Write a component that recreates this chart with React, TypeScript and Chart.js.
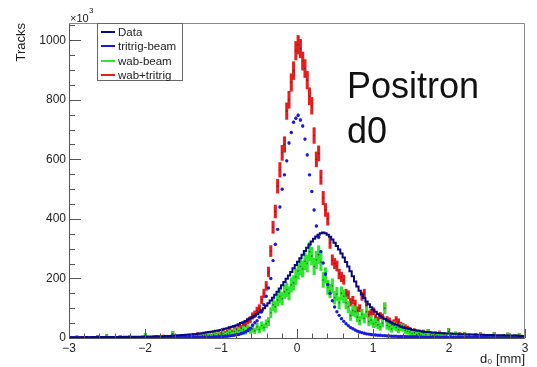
import React, { useEffect, useRef } from 'react';
import { Chart, registerables } from 'chart.js';

Chart.register(...registerables);

// ---- axis ranges / ticks ----
const X_MIN = -3;
const X_MAX = 3;
const N_BINS = 200;
const Y_MIN = 0;
const Y_MAX = 1058;
const X_MAJOR_STEP = 1;
const X_MINOR_STEP = 0.2;
const Y_MAJOR_STEP = 200;
const Y_MINOR_STEP = 50;

const SERIES_NAMES = ['Data', 'tritrig-beam', 'wab-beam', 'wab+tritrig'];
const NAVY = '#0a0a80';
const BLUE = '#1a1ae0';
const GREEN = '#2ee62e';
const RED = '#e81e1e';

// ---- per-bin contents (units of 10^3 tracks), 200 bins of 0.03 mm from -3 to 3 ----
const dataCounts = [
  2, 2, 2, 2, 2, 2, 2, 3, 2, 2, 3, 3, 2, 3, 3, 3, 3, 3, 3, 3,
  3, 3, 3, 3, 4, 3, 4, 4, 4, 4, 4, 4, 5, 5, 5, 5, 5, 6, 6, 6,
  6, 6, 7, 7, 7, 8, 8, 9, 9, 10, 10, 11, 11, 12, 13, 13, 14, 15, 16, 18,
  19, 20, 21, 23, 24, 25, 27, 29, 31, 33, 36, 38, 40, 43, 46, 50, 53, 57, 62, 66,
  70, 75, 80, 86, 93, 100, 108, 117, 126, 135, 145, 155, 166, 177, 188, 199, 210, 222, 234, 245,
  256, 268, 280, 292, 303, 314, 324, 333, 341, 347, 352, 354, 352, 347, 340, 331, 320, 309, 297, 284,
  270, 255, 240, 224, 207, 190, 173, 159, 146, 134, 123, 113, 103, 95, 88, 81, 75, 69, 64, 59,
  55, 51, 48, 45, 42, 39, 36, 34, 32, 30, 28, 27, 25, 24, 23, 21, 20, 20, 19, 18,
  18, 17, 17, 16, 16, 15, 15, 15, 14, 14, 14, 13, 13, 13, 12, 12, 12, 12, 11, 11,
  11, 11, 10, 10, 10, 10, 9, 9, 9, 9, 9, 8, 8, 8, 8, 8, 8, 7, 7, 7,
];

const tritrigBeam = [
  1, 1, 1, 1, 1, 1, 1, 1, 1, 1, 1, 1, 1, 1, 1, 1, 1, 1, 1, 1,
  1, 1, 1, 1, 1, 1, 1, 1, 1, 1, 1, 1, 1, 1, 1, 1, 1, 1, 1, 1,
  1, 1, 1, 1, 1, 1, 2, 2, 2, 2, 2, 2, 2, 2, 3, 3, 3, 3, 3, 3,
  3, 3, 3, 4, 4, 4, 5, 5, 6, 6, 7, 8, 9, 11, 12, 15, 17, 21, 25, 33,
  43, 51, 58, 70, 88, 112, 140, 168, 200, 260, 315, 365, 440, 500, 548, 595, 655, 690, 725, 738,
  748, 732, 712, 668, 615, 548, 492, 430, 376, 338, 290, 252, 215, 180, 150, 125, 104, 88, 76, 65,
  56, 48, 41, 35, 31, 27, 23, 20, 18, 16, 14, 13, 12, 11, 10, 9, 9, 8, 8, 7,
  7, 6, 6, 6, 5, 5, 5, 5, 4, 4, 4, 4, 4, 3, 3, 3, 3, 3, 3, 3,
  3, 3, 3, 2, 2, 2, 2, 2, 2, 2, 2, 2, 2, 2, 2, 2, 2, 2, 2, 2,
  2, 2, 2, 2, 1, 1, 1, 1, 1, 1, 1, 1, 1, 1, 1, 1, 1, 1, 1, 1,
];

const wabBeam: (number | null)[] = [
  null, null, null, 2, null, null, null, null, null, null, null, null, 3, null, null, null, 6, null, null, null,
  null, null, 3, null, null, null, 2, null, null, null, null, null, null, 8, null, null, null, null, 3, null,
  null, 4, null, null, null, 14, null, 3, null, 5, 4, null, 6, 3, 7, 5, 9, 4, 8, 10,
  6, 9, 5, 11, 7, 12, 8, 14, 10, 13, 18, 12, 22, 16, 25, 19, 28, 22, 32, 26,
  30, 24, 38, 28, 42, 35, 48, 55, 85, 112, 105, 128, 140, 132, 155, 162, 150, 178, 185, 205,
  225, 240, 232, 258, 250, 290, 275, 240, 262, 280, 255, 195, 210, 170, 158, 175, 135, 148, 118, 150,
  140, 118, 104, 75, 92, 88, 70, 58, 80, 66, 88, 55, 60, 48, 52, 44, 38, 50, 100, 42,
  38, 30, 42, 35, 28, 36, 33, 25, 22, 20, 15, 18, 12, 14, 10, 16, 12, 19, 11, 8,
  12, 8, 14, 6, 10, 7, 22, 9, 5, 12, 8, 10, 6, 11, 4, 7, null, 5, 8, null,
  10, 4, null, 6, null, 3, 11, null, 4, null, 5, null, 10, 3, null, 6, null, 9, 4, 3,
];

const wabTritrig = [
  1, 1, 1, 3, 1, 1, 1, 1, 1, 1, 1, 1, 4, 1, 1, 1, 7, 1, 1, 1,
  1, 1, 4, 1, 1, 1, 3, 1, 1, 1, 1, 1, 1, 9, 1, 1, 1, 1, 4, 1,
  2, 5, 2, 2, 2, 15, 3, 4, 2, 7, 6, 3, 8, 5, 10, 8, 12, 7, 11, 13,
  9, 12, 8, 15, 11, 16, 13, 19, 16, 20, 25, 20, 31, 27, 37, 34, 45, 45, 57, 62,
  74, 80, 92, 100, 128, 150, 175, 222, 292, 372, 425, 510, 565, 622, 650, 762, 800, 858, 898, 965,
  985, 972, 930, 905, 866, 812, 780, 680, 600, 620, 540, 470, 430, 400, 320, 262, 250, 242, 215, 205,
  196, 150, 145, 120, 127, 115, 93, 100, 140, 150, 110, 80, 85, 90, 70, 60, 75, 70, 105, 62,
  58, 48, 52, 62, 55, 44, 40, 36, 32, 28, 22, 24, 18, 20, 15, 20, 15, 22, 14, 11,
  15, 11, 17, 8, 12, 9, 25, 11, 7, 14, 10, 12, 8, 13, 6, 9, 2, 7, 10, 2,
  12, 5, 2, 7, 1, 4, 13, 1, 5, 1, 6, 1, 11, 4, 1, 7, 1, 10, 5, 4,
];

// ---- derived: bin centres and sqrt(N)-style uncertainties ----
const BIN_W = (X_MAX - X_MIN) / N_BINS;
const binCenters = dataCounts.map((_, i) => +(X_MIN + BIN_W * (i + 0.5)).toFixed(4));
const wabErr = (v: number) => 1.7 * Math.sqrt(v) + 1.5;
const sumErr = (v: number) => 0.9 * Math.sqrt(v) + 3;
const tritrigErr = (v: number) => 0.1 * Math.sqrt(v) + 1;

const points = (arr: (number | null)[]) =>
  arr.flatMap((v, i) => (v == null ? [] : [{ x: binCenters[i], y: v }]));
const ranges = (arr: (number | null)[], err: (v: number) => number) =>
  arr.flatMap((v, i) =>
    v == null ? [] : [{ x: binCenters[i], y: [Math.max(0, v - err(v)), v + err(v)] }]
  );

const FONT = '"Liberation Sans", Arial, Helvetica, sans-serif';

const rootAxesPlugin = {
  id: 'rootAxes',
  afterDraw(chart: any) {
    const { ctx, chartArea } = chart;
    const { left, right, top, bottom } = chartArea;
    const xs = chart.scales.x;
    const ys = chart.scales.y;
    ctx.save();
    ctx.lineWidth = 1;
    // frame
    ctx.strokeStyle = '#8a8a8a';
    ctx.beginPath();
    ctx.moveTo(Math.round(left) + 0.5, Math.round(top) + 0.5);
    ctx.lineTo(Math.round(right) - 0.5, Math.round(top) + 0.5);
    ctx.lineTo(Math.round(right) - 0.5, Math.round(bottom) + 0.5);
    ctx.stroke();
    ctx.strokeStyle = '#555';
    ctx.beginPath();
    ctx.moveTo(Math.round(left) + 0.5, Math.round(top) + 0.5);
    ctx.lineTo(Math.round(left) + 0.5, Math.round(bottom) + 0.5);
    ctx.lineTo(Math.round(right) - 0.5, Math.round(bottom) + 0.5);
    ctx.stroke();
    // y ticks (inward)
    ctx.beginPath();
    for (let v = Y_MIN; v <= Y_MAX + 1e-6; v += Y_MINOR_STEP) {
      const py = Math.round(ys.getPixelForValue(v)) + 0.5;
      const len = v % Y_MAJOR_STEP === 0 ? 12 : 6;
      ctx.moveTo(left, py);
      ctx.lineTo(left + len, py);
    }
    // x ticks (inward)
    const nMinor = Math.round((X_MAX - X_MIN) / X_MINOR_STEP);
    for (let k = 0; k <= nMinor; k++) {
      const v = X_MIN + k * X_MINOR_STEP;
      const px = Math.round(xs.getPixelForValue(v)) + 0.5;
      const isMajor = Math.abs(v / X_MAJOR_STEP - Math.round(v / X_MAJOR_STEP)) < 1e-6;
      const len = isMajor ? 9 : 4.5;
      ctx.moveTo(px, bottom);
      ctx.lineTo(px, bottom - len);
    }
    ctx.stroke();
    ctx.restore();
  },
};

export default function App() {
  const canvasRef = useRef<HTMLCanvasElement>(null);

  useEffect(() => {
    document.body.style.margin = '0';
    const canvas = canvasRef.current;
    if (!canvas) return;
    const chart = new Chart(canvas, {
      type: 'bar',
      data: {
        datasets: [
          {
            type: 'line',
            label: SERIES_NAMES[0],
            data: points(dataCounts),
            borderColor: NAVY,
            borderWidth: 2,
            pointRadius: 0,
            stepped: 'middle',
            fill: false,
            order: 0,
          } as any,
          {
            type: 'scatter',
            label: SERIES_NAMES[1],
            data: points(tritrigBeam),
            backgroundColor: BLUE,
            borderWidth: 0,
            pointRadius: 1.7,
            order: 1,
          } as any,
          {
            type: 'bar',
            label: SERIES_NAMES[1] + ' err',
            data: ranges(tritrigBeam, tritrigErr),
            backgroundColor: BLUE,
            barThickness: 1,
            grouped: false,
            order: 2,
          } as any,
          {
            type: 'scatter',
            label: SERIES_NAMES[2] + ' centre',
            data: points(wabBeam),
            backgroundColor: 'rgba(40,70,40,0.85)',
            borderWidth: 0,
            pointRadius: 0.8,
            order: 3,
          } as any,
          {
            type: 'bar',
            label: SERIES_NAMES[2],
            data: ranges(wabBeam, wabErr),
            backgroundColor: GREEN,
            barThickness: 2.4,
            grouped: false,
            order: 4,
          } as any,
          {
            type: 'scatter',
            label: SERIES_NAMES[3] + ' centre',
            data: points(wabTritrig),
            backgroundColor: 'rgba(90,30,30,0.85)',
            borderWidth: 0,
            pointRadius: 0.8,
            order: 5,
          } as any,
          {
            type: 'bar',
            label: SERIES_NAMES[3],
            data: ranges(wabTritrig, sumErr),
            backgroundColor: RED,
            barThickness: 2.4,
            grouped: false,
            order: 6,
          } as any,
        ],
      },
      options: {
        responsive: false,
        animation: false,
        devicePixelRatio: 1,
        events: [],
        layout: { padding: { top: 23, right: 12, left: 0, bottom: 0 } },
        plugins: { legend: { display: false }, tooltip: { enabled: false } },
        scales: {
          x: {
            type: 'linear',
            min: X_MIN,
            max: X_MAX,
            offset: false,
            grid: { display: false, drawTicks: false },
            border: { display: false },
            ticks: {
              stepSize: X_MAJOR_STEP,
              includeBounds: false,
              padding: 3,
              color: '#222',
              font: { family: FONT, size: 12 },
              maxRotation: 0,
              autoSkip: false,
              callback: (v: any) => (Number(v) < 0 ? '\u2212' + Math.abs(Number(v)) : String(v)),
            },
            title: {
              display: true,
              text: 'd\u2080 [mm]',
              align: 'end',
              color: '#222',
              font: { family: FONT, size: 13 },
              padding: { top: 0, bottom: 0 },
            },
            afterFit: (s: any) => {
              s.height = 29;
            },
          } as any,
          y: {
            type: 'linear',
            min: Y_MIN,
            max: Y_MAX,
            grid: { display: false, drawTicks: false },
            border: { display: false },
            ticks: {
              stepSize: Y_MAJOR_STEP,
              includeBounds: false,
              padding: 3,
              color: '#222',
              font: { family: FONT, size: 12 },
              callback: (v: any) => String(v),
            },
            title: {
              display: true,
              text: 'Tracks',
              align: 'end',
              color: '#222',
              font: { family: FONT, size: 13 },
              padding: { top: 14, bottom: 0 },
            },
            afterFit: (s: any) => {
              s.width = 69;
            },
          } as any,
        },
      },
      plugins: [rootAxesPlugin],
    } as any);
    return () => chart.destroy();
  }, []);

  const legendRows = [
    { name: SERIES_NAMES[0], color: NAVY, y: 7.5 },
    { name: SERIES_NAMES[1], color: '#1818d0', y: 21.5 },
    { name: SERIES_NAMES[2], color: GREEN, y: 36.5 },
    { name: SERIES_NAMES[3], color: RED, y: 51 },
  ];

  return (
    <div
      style={{
        position: 'relative',
        width: 537,
        height: 367,
        background: '#fff',
        overflow: 'hidden',
        fontFamily: FONT,
        color: '#222',
      }}
    >
      <canvas
        ref={canvasRef}
        width={537}
        height={367}
        style={{ position: 'absolute', left: 0, top: 0, width: 537, height: 367 }}
      />
      <span style={{ position: 'absolute', left: 70, top: 12, fontSize: 11, lineHeight: '12px' }}>×10</span>
      <span style={{ position: 'absolute', left: 89, top: 7, fontSize: 8, lineHeight: '8px' }}>3</span>
      <div
        style={{
          position: 'absolute',
          left: 97,
          top: 23,
          width: 86,
          height: 58,
          boxSizing: 'border-box',
          border: '1px solid #666',
          background: '#fff',
        }}
      >
        {legendRows.map((r) => (
          <div key={r.name}>
            <div
              style={{
                position: 'absolute',
                left: 3,
                top: r.y - 1,
                width: 14,
                height: 2,
                background: r.color,
              }}
            />
            <div
              style={{
                position: 'absolute',
                left: 20,
                top: r.y - 7,
                height: 14,
                lineHeight: '14px',
                fontSize: 11.5,
                whiteSpace: 'nowrap',
              }}
            >
              {r.name}
            </div>
          </div>
        ))}
      </div>
      <div
        style={{
          position: 'absolute',
          left: 347,
          top: 63,
          fontSize: 36,
          lineHeight: '45px',
          color: '#111',
          whiteSpace: 'nowrap',
        }}
      >
        Positron
        <br />
        d0
      </div>
    </div>
  );
}
